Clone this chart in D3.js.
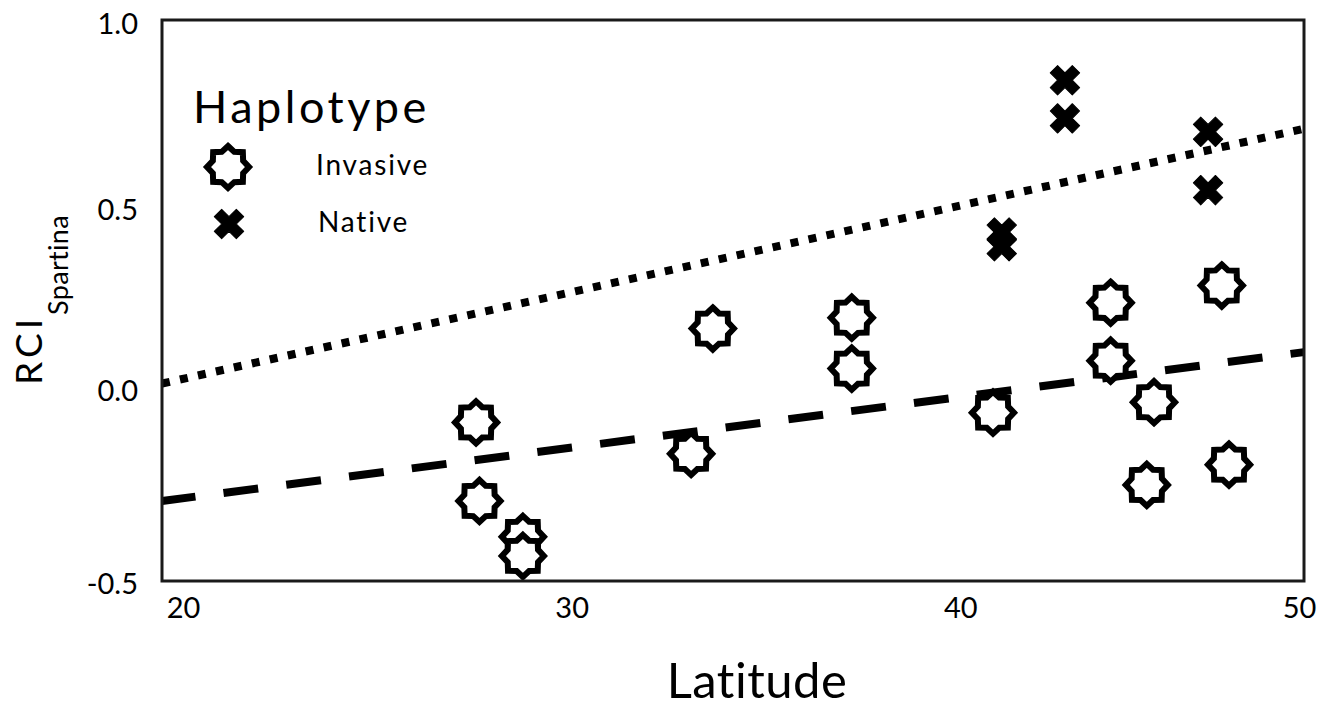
<!DOCTYPE html>
<html>
<head>
<meta charset="utf-8">
<script src="https://cdn.jsdelivr.net/npm/d3@7"></script>
<style>
  html, body { margin: 0; padding: 0; background: #fff; }
  svg { display: block; font-family: Lato, "Open Sans", sans-serif; }
</style>
</head>
<body>
<svg id="chart" width="1322" height="708"></svg>
<script>
// ---- Data ----
const invasiveLat = [28.25, 28.34, 29.48, 29.48, 33.90, 34.47, 38.12, 38.12, 41.83, 44.92, 44.92, 46.06, 45.87, 47.84, 48.03];
const invasiveRCI = [-0.076, -0.286, -0.382, -0.433, -0.160, 0.175, 0.204, 0.068, -0.050, 0.244, 0.089, -0.022, -0.243, 0.290, -0.189];
const nativeLat = [43.72, 43.72, 47.48, 47.48, 42.06, 42.06];
const nativeRCI = [0.839, 0.737, 0.701, 0.545, 0.432, 0.395];
const trendLat = [20, 50];
const nativeTrend = [0.028, 0.709];
const invasiveTrend = [-0.286, 0.112];
const xTicks = [20, 30, 40, 50];
const yTicks = [1.0, 0.5, 0.0, -0.5];
const legendTitle = "Haplotype";
const legendLabels = ["Invasive", "Native"];

// ---- Layout ----
const box = { left: 162, top: 20, right: 1304, bottom: 581 };
const xLabelShift = [21, 29, 37, -5];
const yLabelShift = [1, 0, -6, 0];

const svg = d3.select("#chart");
const x = d3.scaleLinear().domain([20, 50]).range([box.left, box.right]);
const y = d3.scaleLinear().domain([-0.5, 1.0]).range([box.bottom, box.top]);

// trend lines
const line = d3.line().x(d => x(d[0])).y(d => y(d[1]));
svg.append("path")
  .datum(trendLat.map((v, i) => [v, invasiveTrend[i]]))
  .attr("d", line).attr("fill", "none").attr("stroke", "#000")
  .attr("stroke-width", 8).attr("stroke-dasharray", "35,28.3").attr("stroke-dashoffset", 1.3);
svg.append("path")
  .datum(trendLat.map((v, i) => [v, nativeTrend[i]]))
  .attr("d", line).attr("fill", "none").attr("stroke", "#000")
  .attr("stroke-width", 8).attr("stroke-dasharray", "8,10.4");

// star marker path (8-pointed)
const R = 21, r = R * 0.78;
const starPts = d3.range(16).map(i => [i * Math.PI / 8, i % 2 === 0 ? R : r]);
const starPath = d3.lineRadial().angle(d => d[0]).radius(d => d[1]).curve(d3.curveLinearClosed)(starPts);
const crossPath = d3.symbol().type(d3.symbolCross).size(540)();

function drawStar(g, cx, cy) {
  g.append("path").attr("d", starPath)
    .attr("transform", `translate(${cx},${cy})`)
    .attr("fill", "#fff").attr("stroke", "#000").attr("stroke-width", 6)
    .attr("stroke-linejoin", "miter");
}
function drawCross(g, cx, cy) {
  g.append("path").attr("d", crossPath)
    .attr("transform", `translate(${cx},${cy}) rotate(45)`)
    .attr("fill", "#000").attr("stroke", "#000").attr("stroke-width", 1)
    .attr("stroke-linejoin", "round");
}

const pts = svg.append("g");
invasiveLat.forEach((v, i) => drawStar(pts, x(v), y(invasiveRCI[i])));
nativeLat.forEach((v, i) => drawCross(pts, x(v), y(nativeRCI[i])));

// plot box
svg.append("rect")
  .attr("x", box.left).attr("y", box.top)
  .attr("width", box.right - box.left).attr("height", box.bottom - box.top)
  .attr("fill", "none").attr("stroke", "#1a1a1a").attr("stroke-width", 3);

// axes
const xAxis = svg.append("g").attr("transform", `translate(0,${box.bottom})`)
  .call(d3.axisBottom(x).tickValues(xTicks).tickSize(0).tickFormat(d3.format("d")));
xAxis.select(".domain").remove();
xAxis.selectAll("text")
  .attr("font-family", "Lato, sans-serif").attr("font-size", 29).attr("fill", "#000")
  .attr("y", 37).attr("dy", 0)
  .attr("dx", (d, i) => xLabelShift[i]);

const yAxis = svg.append("g").attr("transform", `translate(${box.left},0)`)
  .call(d3.axisLeft(y).tickValues(yTicks).tickSize(0)
    .tickFormat(d => d3.format(".1f")(d).replace("\u2212", "-")));
yAxis.select(".domain").remove();
yAxis.selectAll("text")
  .attr("font-family", "Lato, sans-serif").attr("font-size", 29).attr("fill", "#000")
  .attr("x", -24).attr("dy", "0.42em")
  .attr("y", (d, i) => yLabelShift[i]);

// axis titles
svg.append("text").attr("x", 757).attr("y", 698).attr("text-anchor", "middle")
  .attr("font-size", 49).attr("letter-spacing", 0.5).attr("fill", "#000").text("Latitude");

const yt = svg.append("text")
  .attr("transform", "translate(42,300) rotate(-90)")
  .attr("text-anchor", "middle").attr("fill", "#000");
yt.append("tspan").attr("font-size", 37).attr("letter-spacing", 4).text("RCI");
yt.append("tspan").attr("font-size", 27).attr("dy", 26).attr("letter-spacing", 0.3).text("Spartina");

// legend
svg.append("text").attr("x", 193).attr("y", 123).attr("font-size", 45)
  .attr("letter-spacing", 3.5).attr("fill", "#000").text(legendTitle);
drawStar(svg, 228, 167);
drawCross(svg, 229, 224);
svg.append("text").attr("x", 316).attr("y", 175).attr("font-size", 28)
  .attr("letter-spacing", 1.8).attr("fill", "#000").text(legendLabels[0]);
svg.append("text").attr("x", 318).attr("y", 232).attr("font-size", 28)
  .attr("letter-spacing", 1.8).attr("fill", "#000").text(legendLabels[1]);
</script>
</body>
</html>
